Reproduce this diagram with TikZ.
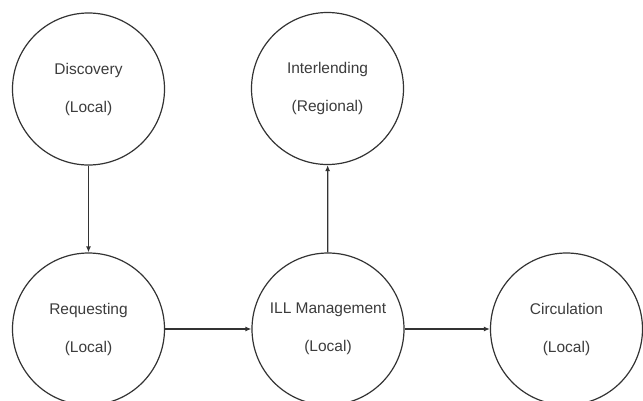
\documentclass[tikz,border=0pt]{standalone}
\usepackage{fontspec}
\setmainfont{Liberation Sans}
\usetikzlibrary{arrows.meta}
\definecolor{ink}{HTML}{333333}
\definecolor{txt}{HTML}{3C3C3C}
\tikzset{
  stage/.style={circle, draw=ink, line width=1.2pt, minimum size=152pt, inner sep=0pt,
    align=center, text=txt, font=\fontsize{15.5}{18}\selectfont},
  flow/.style={draw=ink, line width=1.2pt, -{Latex[length=6pt,width=5pt]}}
}
\begin{document}
\begin{tikzpicture}[x=1pt,y=-1pt]
  \useasboundingbox (0,0) rectangle (643,400);
  \clip (0,0) rectangle (643,400);
  \fill[white] (0,0) rectangle (643,400);
  \node[stage] (disc) at (88.5,89) {Discovery\\[20pt](Local)};
  \node[stage] (inter) at (327.5,88.5) {Interlending\\[20pt](Regional)};
  \node[stage] (req) at (88.5,329) {Requesting\\[20pt](Local)};
  \node[stage] (ill) at (328,329) {ILL Management\\[20pt](Local)};
  \node[stage] (circ) at (566.5,329) {Circulation\\[20pt](Local)};
  \draw[flow] (disc) -- (req);
  \draw[flow] (req) -- (ill);
  \draw[flow] (ill) -- (inter);
  \draw[flow] (ill) -- (circ);
\end{tikzpicture}
\end{document}
